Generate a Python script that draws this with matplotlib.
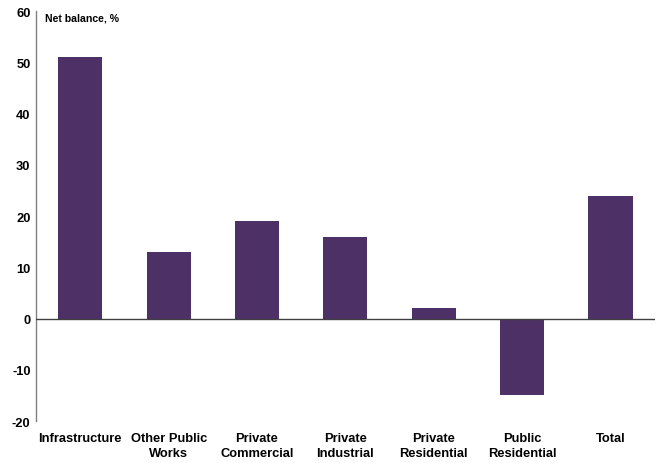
import matplotlib.pyplot as plt
import numpy as np

plt.rcParams['font.family'] = 'Liberation Sans'
plt.rcParams['font.weight'] = 'bold'
plt.rcParams['axes.unicode_minus'] = False

categories = ["Infrastructure", "Other Public\nWorks", "Private\nCommercial",
              "Private\nIndustrial", "Private\nResidential", "Public\nResidential", "Total"]
net_balance = [51, 13, 19, 16, 2, -15, 24]
y_ticks = [-20, -10, 0, 10, 20, 30, 40, 50, 60]

fig = plt.figure(figsize=(6.56, 4.64), dpi=100)
ax = fig.add_axes([0.055, 0.0905, 0.943, 0.8835])

x = np.arange(len(categories))
ax.bar(x, net_balance, width=0.5, color="#4D3066", zorder=2)
ax.axhline(0, color="#404040", linewidth=1.0, zorder=3)

ax.set_xlim(-0.5, len(categories) - 0.5)
ax.set_ylim(-20, 60)
ax.set_yticks(y_ticks)
ax.set_xticks(x)
ax.set_xticklabels(categories, fontsize=9.3, fontweight="bold", linespacing=1.35)
ax.tick_params(axis="x", length=0, pad=8)
ax.tick_params(axis="y", length=0, pad=4, labelsize=9.3)
for lbl in ax.get_yticklabels():
    lbl.set_fontweight("bold")

for side in ["top", "right", "bottom"]:
    ax.spines[side].set_visible(False)
ax.spines["left"].set_color("#808080")
ax.spines["left"].set_linewidth(1.0)

ax.text(0.014, 0.997, "Net balance, %", transform=ax.transAxes, fontsize=7.6,
        fontweight="bold", va="top", ha="left")

fig.savefig("out.png", dpi=100)
